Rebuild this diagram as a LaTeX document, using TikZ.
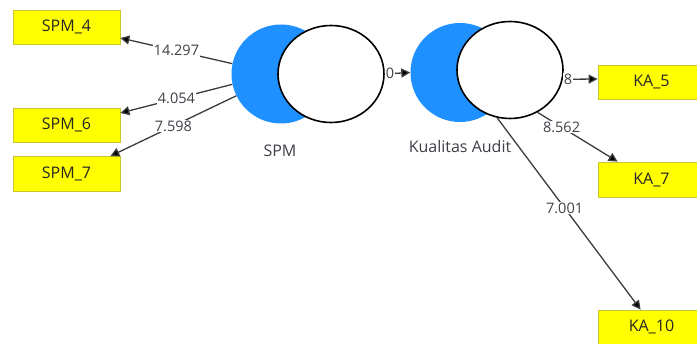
\documentclass[tikz,border=0pt]{standalone}
\usepackage{fontspec}
\setmainfont{Open Sans}
\usetikzlibrary{arrows.meta,shapes.geometric}
\definecolor{boxyellow}{RGB}{255,255,0}
\definecolor{boxedge}{RGB}{200,200,40}
\definecolor{lvblue}{RGB}{30,144,255}
\definecolor{txtgray}{RGB}{64,64,72}
\definecolor{linegray}{RGB}{60,60,60}
\tikzset{
  indbox/.style={rectangle, fill=boxyellow, draw=boxedge, line width=0.8pt, minimum width=107pt, minimum height=34pt, inner sep=0pt, text=black!85, font=\fontsize{16}{19}\selectfont},
  bluedisc/.style={circle, fill=lvblue, minimum size=99pt, inner sep=0pt},
  whiteell/.style={ellipse, fill=white, draw=black, line width=1.6pt, minimum width=106pt, minimum height=97pt, inner sep=0pt},
  lvlabel/.style={text=txtgray, font=\fontsize{16}{19}\selectfont, inner sep=0pt},
  conn/.style={draw=linegray, line width=1.3pt, -{Triangle[length=9pt,width=9pt,fill=black]}},
  wlbl/.style={fill=white, text=txtgray, font=\fontsize{14.5}{17}\selectfont, inner sep=1pt}
}
\begin{document}
\begin{tikzpicture}[x=1pt,y=-1pt]
\clip (0,0) rectangle (697,344);
\fill[white] (0,0) rectangle (697,344);
% indicator boxes
\node[indbox] (spm4) at (66.5,27) {SPM\_4};
\node[indbox] (spm6) at (66.5,125) {SPM\_6};
\node[indbox, minimum height=35pt] (spm7) at (66.5,174) {SPM\_7};
\node[indbox] (ka5) at (651.5,82) {KA\_5};
\node[indbox, minimum height=35pt] (ka7) at (651.5,179.5) {KA\_7};
\node[indbox] (ka10) at (651.5,327) {KA\_10};
% latent variables
\node[bluedisc] (spmB) at (281,74) {};
\node[whiteell] (spmE) at (331,74) {};
\node[bluedisc] (kaB) at (460,72.5) {};
\node[whiteell] (kaE) at (510,70) {};
\node[lvlabel] (spmL) at (280,151) {SPM};
\node[lvlabel] (kaL) at (460,147) {Kualitas Audit};
% connectors
\draw[conn] (spmB.168) -- node[wlbl, pos=0.5] {14.297} ([yshift=-11pt]spm4.east);
\draw[conn] (spmB.192) -- node[wlbl, pos=0.5] {4.054} ([yshift=12pt]spm6.east);
\draw[conn] (spmB.206) -- node[wlbl, pos=0.5] {7.598} ([xshift=-10pt]spm7.north east);
\draw[conn] (spmE.east) -- node[wlbl, pos=0.2] {0} (kaB.west);
\draw[conn] (kaE.350) -- node[wlbl, pos=0.15] {8} ([yshift=3pt]ka5.west);
\draw[conn] (kaE.303) -- node[wlbl, pos=0.3] {8.562} ([xshift=20pt]ka7.north west);
\draw[conn] (kaE.255) -- node[wlbl, pos=0.47] {7.001} ([xshift=43pt]ka10.north west);
\end{tikzpicture}
\end{document}
